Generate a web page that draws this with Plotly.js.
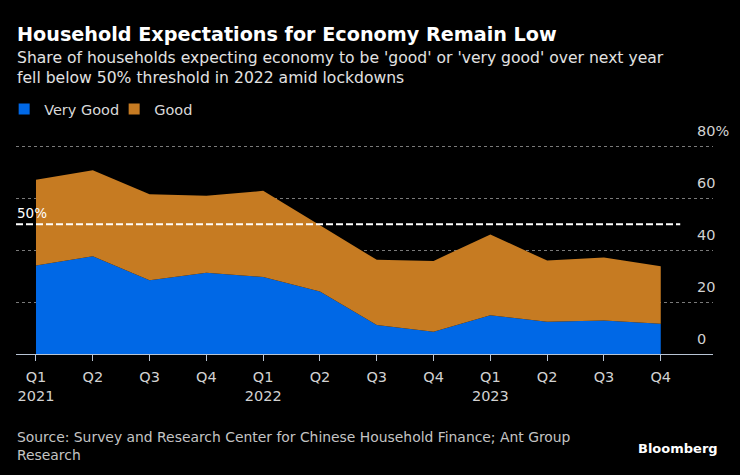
<!DOCTYPE html>
<html><head><meta charset="utf-8">
<script src="https://cdn.plot.ly/plotly-3.0.1.min.js"></script>
<style>html,body{margin:0;padding:0;background:#000;}</style>
</head><body><div id="chart" style="width:740px;height:475px;"></div>
<script>
const quarters = ["Q1","Q2","Q3","Q4","Q1","Q2","Q3","Q4","Q1","Q2","Q3","Q4"];
const years = ["2021","","","","2022","","","","2023","","",""];
const veryGood = [34.1,37.7,28.4,31.3,29.7,24.1,11.2,8.6,14.9,12.4,12.9,11.7];
const good = [33.1,33.1,33.2,29.7,33.2,25.5,25.1,27.3,31.2,23.6,24.3,22.1];
const yTickVals = [0,20,40,60,80];
const yTickText = ["0","20","40","60","80%"];
const threshold = 50;
const seriesNames = ["Very Good","Good"];
const colors = ["#0068E6","#C67B22"];

const FONT = "DejaVu Sans, Verdana, sans-serif";
const xIdx = quarters.map((q,i)=>i);
const tickText = quarters.map((q,i)=> years[i] ? q + "<br>" + years[i] : q);
const TOP = 145, BOT = 354, H = BOT - TOP;
const py = Y => (BOT - Y) / H;
const PX = 2.594;

const traces = [
  {x:xIdx, y:veryGood, name:seriesNames[0], type:"scatter", mode:"none", stackgroup:"a",
   fillcolor:colors[0], showlegend:false, hoverinfo:"skip"},
  {x:xIdx, y:good, name:seriesNames[1], type:"scatter", mode:"none", stackgroup:"a",
   fillcolor:colors[1], showlegend:false, hoverinfo:"skip"},
  {x:[null], y:[null], name:seriesNames[0], type:"scatter", mode:"markers",
   marker:{symbol:"square", size:11, color:colors[0]}, showlegend:true},
  {x:[null], y:[null], name:seriesNames[1], type:"scatter", mode:"markers",
   marker:{symbol:"square", size:11, color:colors[1]}, showlegend:true}
];

const layout = {
  width:740, height:475,
  paper_bgcolor:"#000", plot_bgcolor:"#000",
  margin:{l:16, r:27, t:TOP, b:475-BOT, pad:0, autoexpand:false},
  font:{family:FONT, color:"#d2d2d2", size:14},
  showlegend:true,
  legend:{orientation:"h", traceorder:"normal", x:-0.017, xanchor:"left", y:py(109), yanchor:"middle",
          font:{size:14.5, color:"#d8d8d8", family:FONT}, bgcolor:"rgba(0,0,0,0)",
          entrywidth:65, entrywidthmode:"pixels", itemwidth:30, tracegroupgap:0},
  xaxis:{range:[-0.352, 11.92], tickvals:xIdx, ticktext:tickText, showgrid:false,
         zeroline:false, showline:true, linecolor:"#b8c4d4", linewidth:1,
         ticks:"outside", ticklen:6, tickcolor:"#b8c4d4", ticklabelstandoff:4,
         tickfont:{size:14.5, color:"#d2d2d2", family:FONT}, fixedrange:true},
  yaxis:{range:[0, H/PX], side:"right", tickvals:yTickVals, ticktext:yTickText,
         ticklabelposition:"outside top", ticklabelstandoff:-17, ticklabelshift:-5,
         showgrid:true, gridcolor:"#7a7a7a", griddash:"dot", gridwidth:1,
         zeroline:false, showline:false, ticks:"",
         tickfont:{size:14.5, color:"#d2d2d2", family:FONT}, fixedrange:true},
  shapes:[
    {type:"line", xref:"paper", x0:0, x1:0.953, yref:"y", y0:threshold, y1:threshold,
     line:{color:"#ffffff", width:2, dash:"7px,3px"}}
  ],
  annotations:[
    {xref:"paper", yref:"paper", x:-0.002, y:py(34.4), xanchor:"left", yanchor:"middle",
     text:"<b>Household Expectations for Economy Remain Low</b>", showarrow:false,
     font:{size:19.2, color:"#ffffff", family:FONT}, align:"left"},
    {xref:"paper", yref:"paper", x:-0.002, y:py(68), xanchor:"left", yanchor:"middle",
     text:"Share of households expecting economy to be 'good' or 'very good' over next year<br>fell below 50% threshold in 2022 amid lockdowns",
     showarrow:false, font:{size:15.6, color:"#e2e2e2", family:FONT}, align:"left"},
    {xref:"paper", yref:"paper", x:-0.002, y:py(213), xanchor:"left", yanchor:"middle",
     text:threshold + "%", showarrow:false, font:{size:13.5, color:"#ffffff", family:FONT}},
    {xref:"paper", yref:"paper", x:-0.002, y:py(445.5), xanchor:"left", yanchor:"middle",
     text:"Source: Survey and Research Center for Chinese Household Finance; Ant Group<br>Research",
     showarrow:false, font:{size:13.9, color:"#c4c4c4", family:FONT}, align:"left"},
    {xref:"paper", yref:"paper", x:1.01, y:py(448.5), xanchor:"right", yanchor:"middle",
     text:"<b>Bloomberg</b>", showarrow:false, font:{size:13, color:"#ffffff", family:FONT}}
  ]
};

Plotly.newPlot("chart", traces, layout, {displayModeBar:false, staticPlot:true});
</script></body></html>
